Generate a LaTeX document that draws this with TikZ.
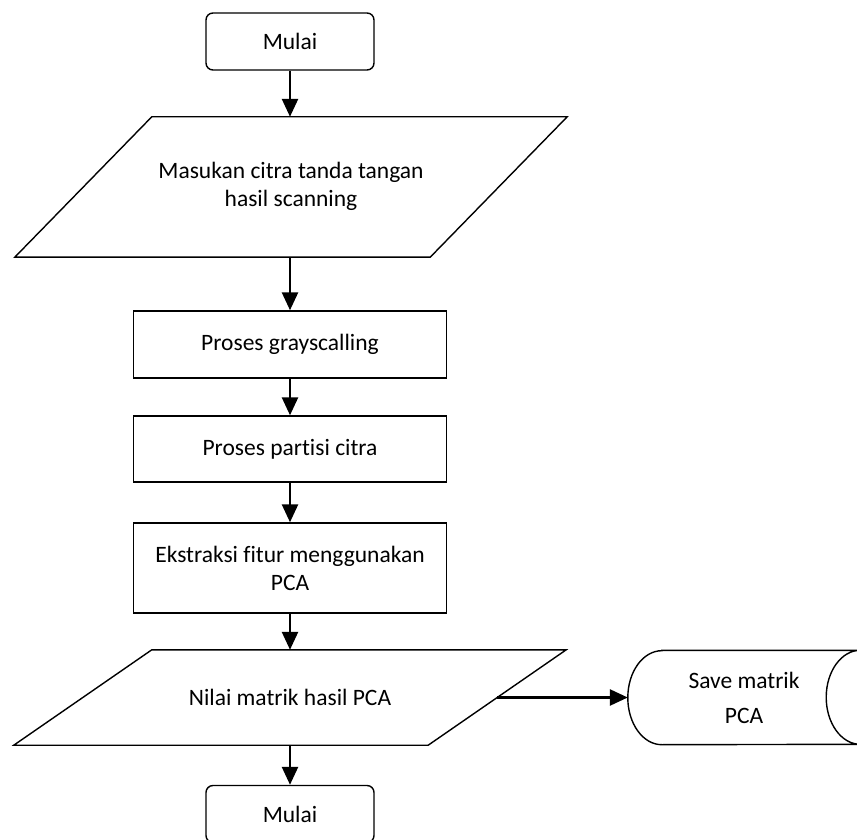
\documentclass[tikz,border=0pt]{standalone}
\usepackage{fontspec}
\setmainfont{Carlito}[Ligatures=NoCommon]
\usetikzlibrary{arrows.meta,calc}
\begin{document}
\begin{tikzpicture}[x=1pt,y=1pt,
  txt/.style={font=\fontsize{23.5}{28}\selectfont, align=center, inner sep=0pt},
  boxline/.style={line width=1.4pt, line join=miter},
  procbox/.style={txt, draw, boxline, minimum width=313},
  termbox/.style={txt, draw, boxline, rounded corners=7pt, minimum width=168, minimum height=57},
  iobox/.style={txt, minimum width=552},
  flow/.style={line width=2.6pt, -{Triangle[width=16pt,length=18pt]}}
]
\useasboundingbox (0,0) rectangle (857,839);
% nodes
\node[termbox] (start) at (290,797.5) {Mulai};
\node[iobox, minimum height=140] (in1) at (291,652) {\raisebox{-6pt}{\begin{tabular}{@{}c@{}}Masukan citra tanda tangan\\hasil scanning\end{tabular}}};
\node[procbox, minimum height=67] (p1) at (290,494.5) {Proses grayscalling};
\node[procbox, minimum height=66] (p2) at (290,390) {Proses partisi citra};
\node[procbox, minimum height=90] (p3) at (290,271) {Ekstraksi fitur menggunakan\\PCA};
\node[iobox, minimum height=95] (in2) at (290,141.5) {Nilai matrik hasil PCA};
\node[txt, minimum width=232, minimum height=94, font=\fontsize{23.5}{35}\selectfont] (save) at (744,141.5) {Save matrik\\PCA};
\node[termbox] (stop) at (290,25) {Mulai};
% outlines
\draw[boxline] ([xshift=137]in1.north west) -- (in1.north east) -- ([xshift=-137]in1.south east) -- (in1.south west) -- cycle;
\draw[boxline] ([xshift=138]in2.north west) -- (in2.north east) -- ([xshift=-138]in2.south east) -- (in2.south west) -- cycle;
\draw[boxline] ([xshift=34]save.north west) -- (save.north east)
  arc[start angle=90, end angle=270, x radius=34, y radius=47]
  -- ([xshift=34]save.south west)
  arc[start angle=270, end angle=90, x radius=34, y radius=47] -- cycle;
\coordinate (in2r) at ($(in2.north east)!0.5!(in2.south east)+(-69,0)$);
% connectors
\draw[flow] (start.south) -- (start.south |- in1.north);
\draw[flow] (in1.south -| p1.north) -- (p1.north);
\draw[flow] (p1.south) -- (p2.north);
\draw[flow] (p2.south) -- (p3.north);
\draw[flow] (p3.south) -- (p3.south |- in2.north);
\draw[flow] (in2r) -- (save.west);
\draw[flow] (in2.south -| stop.north) -- (stop.north);
\end{tikzpicture}
\end{document}
